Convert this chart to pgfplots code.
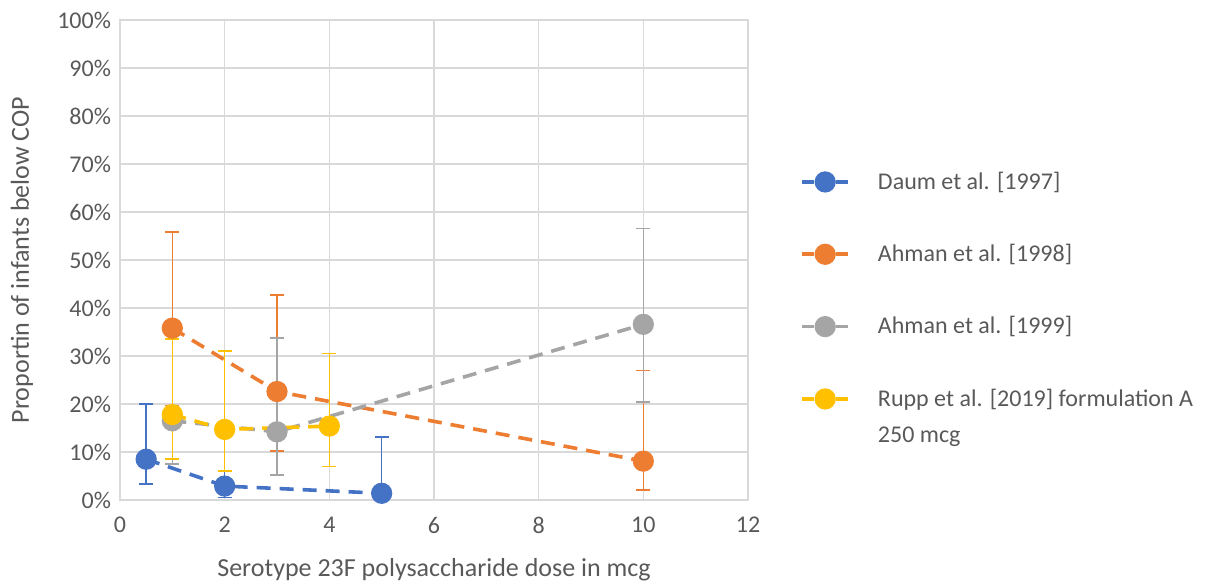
\documentclass[border=0pt]{standalone}
\usepackage{pgfplots}
\pgfplotsset{compat=1.18}
\usepackage{fontspec}
\setmainfont{Carlito}
\definecolor{cblue}{HTML}{4472C4}
\definecolor{corange}{HTML}{ED7D31}
\definecolor{cgray}{HTML}{A5A5A5}
\definecolor{cyellow}{HTML}{FFC000}
\definecolor{txt}{HTML}{595959}
\definecolor{gridc}{HTML}{D9D9D9}

\pgfplotstableread{
x y ep em
0.5 8.5 11.5 5.2
2 2.9 3.0 2.4
5 1.4 11.7 1.3
}\daum
\pgfplotstableread{
x y ep em
1 35.8 20.0 16.1
3 22.6 20.1 12.4
10 8.1 18.9 6.0
}\ahmanA
\pgfplotstableread{
x y ep em
1 16.5 17.0 9.0
3 14.2 19.6 9.0
10 36.6 20.0 16.2
}\ahmanB
\pgfplotstableread{
x y ep em
1 17.8 15.7 9.3
2 14.7 16.3 8.7
4 15.4 15.1 8.4
}\rupp

\begin{document}
\begin{tikzpicture}
\path[use as bounding box] (-60pt,-42.5pt) rectangle (543pt,250pt);
\begin{axis}[
  scale only axis, width=314pt, height=240pt,
  xmin=0, xmax=12, ymin=0, ymax=100,
  xtick={0,2,...,12}, ytick={0,10,...,100},
  yticklabel={\pgfmathprintnumber{\tick}\%},
  /pgf/number format/assume math mode=true,
  grid=major, major grid style={draw=gridc, line width=0.8pt},
  axis line style={draw=gridc, line width=0.8pt},
  tick style={draw=none},
  ticklabel style={font=\fontsize{12}{14}\selectfont, text=txt},
  xticklabel style={yshift=-5pt},
  yticklabel style={xshift=-1pt},
  xlabel={Serotype 23F polysaccharide dose in mcg},
  ylabel={Proportin of infants below COP},
  label style={font=\fontsize{13}{15}\selectfont, text=txt},
  xlabel style={at={([yshift=-35pt]axis description cs:0.5,0)}, anchor=center},
  ylabel style={at={([xshift=-49pt]axis description cs:0,0.5)}, anchor=center},
  legend style={at={(1.0828,0.693)}, anchor=north west, draw=none, fill=none,
    font=\fontsize{12}{14}\selectfont, text=txt, row sep=22pt, inner sep=0pt,
    /tikz/every odd column/.append style={column sep=12pt}},
  legend cell align=left,
  legend image code/.code={
    \draw[#1, mark=none, dash pattern=on 6pt off 3pt on 5pt off 3pt on 6pt] (0pt,0pt) -- (23pt,0pt);
    \draw[#1, solid] plot coordinates {(11.5pt,0pt)};
  },
  every axis plot/.append style={line width=1.8pt, dash pattern=on 7pt off 4.5pt,
    mark=*, mark size=4.4pt, mark options={solid},
    error bars/y dir=both, error bars/y explicit,
    error bars/error bar style={line width=0.8pt, solid},
    error bars/error mark options={rotate=90, mark size=3.5pt, line width=0.8pt, solid}},
]
\addplot[color=cblue] table[x=x, y=y, y error plus=ep, y error minus=em] {\daum};
\addlegendentry{Daum et al. [1997]}
\addplot[color=corange] table[x=x, y=y, y error plus=ep, y error minus=em] {\ahmanA};
\addlegendentry{Ahman et al. [1998]}
\addplot[color=cgray] table[x=x, y=y, y error plus=ep, y error minus=em] {\ahmanB};
\addlegendentry{Ahman et al. [1999]}
\addplot[color=cyellow] table[x=x, y=y, y error plus=ep, y error minus=em] {\rupp};
\addlegendentry{\parbox[t]{200pt}{\fontsize{12}{18}\selectfont Rupp et al. [2019] formulation A\\250 mcg}}
\end{axis}
\end{tikzpicture}
\end{document}
